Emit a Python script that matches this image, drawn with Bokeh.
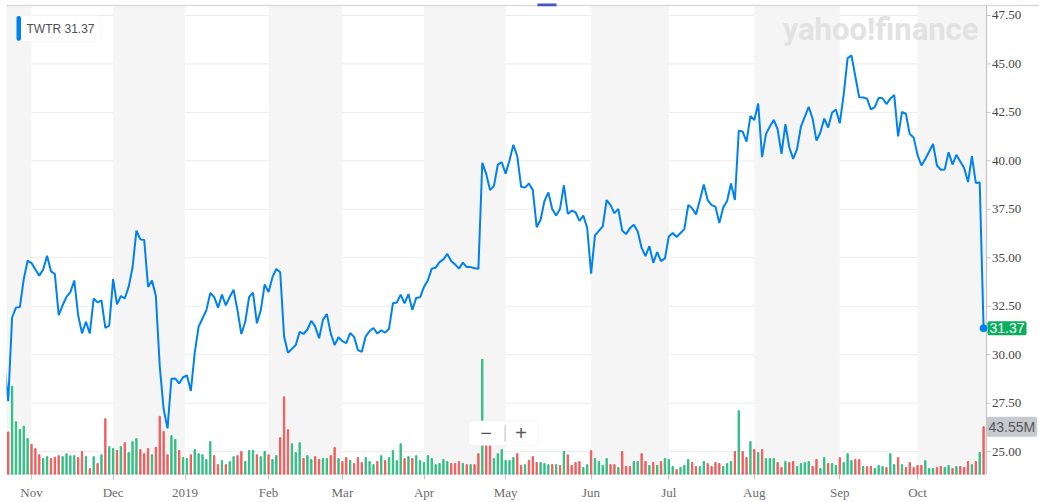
import numpy as np
from bokeh.plotting import figure
from bokeh.models import (Range1d, FixedTicker, BoxAnnotation, Label, Span, ColumnDataSource)
from bokeh.embed import file_html
from bokeh.resources import INLINE

# ---------------- data ----------------
symbol = "TWTR"
# daily closes, Oct 23 2018 .. Oct 24 2019 (trading days)
close = [29.5,
    27.6, 31.92, 32.43, 32.46, 33.9, 34.85, 34.73, 34.4, 34.08, 34.4,
    35.1, 34.3, 34.17, 32.04, 32.55, 32.98, 33.23, 33.83, 32.04, 31.1,
    31.7, 31.1, 32.9, 32.7, 32.8, 31.39, 31.5, 33.9, 32.6, 33.03,
    32.9, 33.5, 34.5, 36.4, 35.95, 35.92, 33.5, 33.83, 33.03, 29.4,
    27.2, 26.2, 28.76, 28.77, 28.52, 28.84, 28.93, 28.13, 30.1, 31.45,
    31.87, 32.3, 33.18, 32.98, 32.43, 33.1, 32.55, 32.98, 33.35, 32.3,
    31.07, 31.7, 32.98, 33.2, 31.62, 32.3, 33.63, 33.23, 34.0, 34.42,
    34.25, 30.93, 30.1, 30.3, 30.5, 31.18, 31.07, 31.3, 31.75, 31.45,
    30.85, 31.8, 32.1, 31.1, 30.5, 30.9, 30.7, 30.6, 31.12, 30.92,
    30.24, 30.15, 30.95, 31.22, 31.38, 31.09, 31.26, 31.14, 31.34, 32.65,
    32.69, 33.1, 32.65, 33.13, 32.31, 32.93, 32.96, 33.5, 33.84, 34.44,
    34.49, 34.78, 34.92, 35.2, 34.83, 34.66, 34.44, 34.75, 34.52, 34.52,
    34.46, 34.44, 39.9, 39.34, 38.49, 38.71, 39.81, 39.93, 39.34, 40.02,
    40.83, 40.24, 38.66, 38.62, 38.83, 38.49, 36.58, 36.96, 37.93, 38.37,
    37.52, 37.18, 37.52, 38.74, 37.26, 37.43, 37.35, 36.9, 37.18, 36.53,
    34.18, 36.16, 36.39, 36.62, 37.98, 37.72, 37.3, 37.52, 36.41, 36.22,
    36.53, 36.7, 36.36, 35.51, 35.09, 35.6, 34.74, 35.29, 34.83, 34.97,
    36.1, 36.28, 36.07, 36.28, 36.48, 37.72, 37.55, 37.24, 37.98, 38.78,
    37.98, 37.72, 37.64, 36.79, 37.6, 37.93, 38.83, 37.98, 41.55, 41.51,
    40.99, 42.31, 42.11, 42.96, 40.19, 41.38, 41.77, 42.11, 41.63, 40.36,
    41.89, 40.7, 40.1, 40.61, 41.77, 42.28, 42.79, 42.18, 41.04, 41.46,
    42.18, 41.72, 42.48, 42.65, 41.94, 43.42, 45.29, 45.44, 44.35, 43.28,
    43.27, 43.21, 42.65, 42.77, 43.25, 43.23, 42.93, 43.21, 43.4, 41.26,
    42.52, 42.43, 41.38, 41.21, 40.31, 39.76, 40.1, 40.48, 40.87, 39.76,
    39.54, 39.56, 40.44, 39.81, 40.31, 39.97, 39.63, 38.91, 40.24, 38.86,
    38.88, 31.37]

# daily volume in millions, Oct 24 2018 .. Oct 24 2019
volume_m = [
    38.7, 80.5, 48, 41, 44, 32.7, 27.5, 23.6, 18, 14.5,
    16.3, 14.5, 15.7, 17.2, 16.3, 18.8, 17, 17.2, 15.4, 21,
    16.3, 5.4, 16.3, 10, 18, 50.8, 25.4, 23.6, 22, 25.4,
    29, 20, 30, 32.7, 22.7, 19, 23.6, 18, 24.8, 53,
    39.3, 18, 35.4, 31.8, 21.8, 15.4, 14.5, 18, 22.7, 19,
    18, 13.6, 30, 17.2, 9, 12.7, 9, 11.8, 16.3, 17.2,
    20.9, 11.8, 21.8, 21.8, 18, 16.3, 20.9, 18, 13.6, 17.2,
    33.6, 70.8, 40.8, 28, 20, 29, 14.5, 17.2, 13.6, 16.3,
    13.6, 14.5, 14.5, 17.2, 24.5, 14.5, 11.8, 15.4, 13, 10,
    15.4, 10.9, 15.4, 11.8, 9, 11.8, 17.2, 12.7, 15.4, 21.8,
    12.7, 28, 14.5, 16.3, 14.5, 17.2, 12.7, 10.9, 17.2, 14.5,
    9, 10, 13.6, 11.8, 10, 10, 11.8, 10, 9, 9,
    9, 19, 105, 27, 27, 14.5, 19, 22.7, 12.7, 12.7,
    15.4, 19, 8.2, 9, 12.7, 16.3, 10.9, 10.9, 10, 9,
    9, 9, 8.2, 21, 18, 8.2, 10.9, 11.8, 6.4, 9,
    21.8, 14.5, 11.8, 8.2, 14.5, 9, 9, 6.4, 21, 7.3,
    7.3, 11.8, 11.8, 19, 11.8, 8.2, 10.9, 8.2, 11.8, 14.5,
    13.6, 7.3, 4.5, 6.4, 8.2, 13.6, 10.9, 7.3, 7.3, 11.8,
    10, 7.3, 10.9, 10, 7.3, 10, 11.8, 21, 58, 21,
    15.4, 30, 22.7, 20, 22.7, 14.5, 14.5, 14.5, 10.9, 6.4,
    11.8, 10.9, 11.8, 7.3, 10, 10.9, 11.8, 7.3, 13.6, 5.4,
    15.4, 10, 10, 8.2, 15.4, 10.9, 19, 12.7, 13.6, 13.6,
    7.3, 7.3, 7.3, 5.4, 8.2, 7.3, 6.4, 19, 9, 15.4,
    9, 6.4, 10.9, 6.4, 8.2, 8.2, 12.7, 5.4, 5.4, 6.4,
    7.3, 6.4, 8.2, 5.4, 7.3, 7.3, 6.4, 11.8, 9, 11.8,
    20, 43.55]

# u = close up (green bar), d = close down (red bar)
vol_dir = ("duuuu udddu udddu uuudd ududu duudu duuud ddudd dduud uuduu "
           "uuudd uduud duuud uuduu ddduu uduud duudd uddud dduuu duduu "
           "uudud uuuuu uuuud ddudu ddudd uuuuu uddud dduuu dudud ddduu "
           "duuuu ddudd duudd ududu uuduu udduu ddddu uudud dudud uuudd "
           "udduu uuddu uduud uuudd udduu uduud udddd duuud duudu dddud ud").replace(" ", "")

month_ticks = [6, 27, 45.5, 67, 86, 107, 128, 150, 170, 192, 214, 234]
month_labels = ["Nov", "Dec", "2019", "Feb", "Mar", "Apr", "May", "Jun", "Jul", "Aug", "Sep", "Oct"]
price_ticks = [25.0, 27.5, 30.0, 32.5, 35.0, 37.5, 40.0, 42.5, 45.0, 47.5]

# ---------------- layout constants ----------------
W, H = 1039, 502
FRAME_L, FRAME_R, FRAME_T, FRAME_B = 6, 1039, 2, 476
AXIS_PX = 986        # pixel column of the price axis line
PX_PER_DAY = 3.886
X0_PX = 7.7          # pixel of trading-day index 0
PX_PER_USD = 19.47
Y4750_PX = 15.0      # pixel of the 47.50 grid line
PX_PER_MVOL = 1.102


def px2x(px):
    return (px - X0_PX) / PX_PER_DAY


def px2y(py):
    return 47.5 - (py - Y4750_PX) / PX_PER_USD


x_start, x_end = px2x(FRAME_L), px2x(FRAME_R)
x_axis = px2x(AXIS_PX)
y_low, y_high = px2y(FRAME_B), px2y(FRAME_T)
vol_high = (FRAME_B - FRAME_T) / PX_PER_MVOL

price_x = list(np.arange(len(close)) - 1)
vol_x = list(np.arange(len(volume_m)))
GREEN, RED = "#2fbf85", "#f25c5c"
vol_colors = [GREEN if c == "u" else RED for c in vol_dir]

p = figure(width=W, height=H, x_range=Range1d(x_start, x_end), y_range=Range1d(y_low, y_high),
           output_backend="svg", toolbar_location=None, y_axis_location=None,
           min_border_left=FRAME_L, min_border_right=W - FRAME_R,
           min_border_top=FRAME_T, min_border_bottom=H - FRAME_B,
           outline_line_color=None, background_fill_color="white", border_fill_color="white")
p.extra_y_ranges = {"vol": Range1d(0, vol_high)}

# month axis (below)
xa = p.xaxis[0]
xa.ticker = FixedTicker(ticks=month_ticks)
xa.major_label_overrides = {t: l for t, l in zip(month_ticks, month_labels)}
xa.major_label_text_font = "Liberation Serif"
xa.major_label_text_font_size = "13px"
xa.major_label_text_color = "#6b6b6b"
xa.axis_line_color = None
xa.major_tick_line_color = "#c4c4c4"
xa.major_tick_out = 5
xa.major_tick_in = 0
xa.minor_tick_line_color = None
xa.major_label_standoff = 5

p.xgrid.visible = False
p.ygrid.visible = False

# alternating month bands
band_edges = [(-2, 6), (27, 45.5), (67, 86), (107, 128), (150, 170), (192, 214), (234, x_axis)]
bands = [BoxAnnotation(left=a, right=b, top=px2y(5), fill_color="#f5f5f5", fill_alpha=1.0,
                       line_color=None, level="underlay") for a, b in band_edges]
for b in bands:
    p.add_layout(b)

# horizontal price grid, stopping at the price axis
n = len(price_ticks)
p.segment(x0=[x_start] * n, x1=[x_axis] * n, y0=price_ticks, y1=price_ticks,
          line_color="#ebebeb", line_width=1, level="underlay")

# frame lines: top rule, bottom rule, price axis line
p.add_layout(Span(location=px2y(5), dimension="width", line_color="#dadada", line_width=1.5))
p.segment(x0=[x_start], x1=[x_axis], y0=[px2y(475.5)], y1=[px2y(475.5)],
          line_color="#c4c4c4", line_width=1)
p.segment(x0=[x_axis], x1=[x_axis], y0=[px2y(5)], y1=[y_low],
          line_color="#c4c4c4", line_width=1.2)
p.add_layout(BoxAnnotation(left=px2x(537), right=px2x(556), top=px2y(3), bottom=px2y(5.8),
                           fill_color="#4356c2", fill_alpha=1.0, line_color=None))

# price axis ticks and labels
p.segment(x0=[x_axis] * n, x1=[px2x(AXIS_PX + 4)] * n, y0=price_ticks, y1=price_ticks,
          line_color="#c4c4c4", line_width=1)
p.text(x=[px2x(AXIS_PX + 5.5)] * n, y=price_ticks, text=[f"{t:.2f}" for t in price_ticks],
       text_align="left", text_baseline="middle", text_font="Liberation Sans",
       text_font_size="13px", text_color="#444444")

# volume bars
vsrc = ColumnDataSource(dict(x=vol_x, top=volume_m, color=vol_colors))
p.vbar(x="x", top="top", bottom=0, width=0.34, color="color", source=vsrc, y_range_name="vol")

# price line
p.line(price_x, close, line_color="#0081f2", line_width=2)
p.scatter([price_x[-1]], [close[-1]], size=7, color="#0081f2")

# watermark
p.add_layout(Label(x=px2x(978), y=px2y(29), text="yahoo!finance", text_align="right",
                   text_baseline="middle", text_font="Roboto", text_font_style="bold",
                   text_font_size="31px", text_color="#e2e2e2"))

# legend box
p.add_layout(BoxAnnotation(left=px2x(16), right=px2x(100), top=px2y(15), bottom=px2y(41),
                           fill_color="white", fill_alpha=1.0, line_color="#e8e8e8",
                           border_radius=3))
p.add_layout(BoxAnnotation(left=px2x(16), right=px2x(20.5), top=px2y(15.5), bottom=px2y(40.5),
                           fill_color="#0081f2", fill_alpha=1.0, line_color=None, border_radius=2))
p.add_layout(Label(x=px2x(26), y=px2y(28.5), text=f"{symbol}  {close[-1]:.2f}", text_align="left",
                   text_baseline="middle", text_font="Liberation Sans", text_font_size="12px",
                   text_color="#505050"))

# zoom control
p.add_layout(BoxAnnotation(left=px2x(468), right=px2x(538), top=px2y(422), bottom=px2y(447),
                           fill_color="white", fill_alpha=1.0, line_color="#e2e2e2",
                           border_radius=4))
p.add_layout(BoxAnnotation(left=px2x(504), right=px2x(505.2), top=px2y(426.5), bottom=px2y(443),
                           fill_color="#c8c8c8", fill_alpha=1.0, line_color=None))
for cx, sym in ((485.5, "\u2212"), (520.5, "+")):
    p.add_layout(Label(x=px2x(cx), y=px2y(434.5), text=sym, text_align="center",
                       text_baseline="middle", text_font="Liberation Sans",
                       text_font_size="20px", text_color="#555555"))

# last price / last volume tags on the price axis
p.add_layout(Label(x=x_axis, y=close[-1], text=f"{close[-1]:.2f}", text_align="left",
                   text_baseline="middle", x_offset=1, text_font="Liberation Sans",
                   text_font_size="14px", text_color="white", background_fill_color="#0aae5c",
                   padding=2, border_radius=2))
p.add_layout(Label(x=x_axis, y=volume_m[-1], y_range_name="vol", text=f"{volume_m[-1]:.2f}M",
                   text_align="left", text_baseline="middle", x_offset=0,
                   text_font="Liberation Sans", text_font_size="14px", text_color="#555555",
                   background_fill_color="#c6c9ce", padding=2, border_radius=2))

open("out.html", "w").write(file_html(p, INLINE))
